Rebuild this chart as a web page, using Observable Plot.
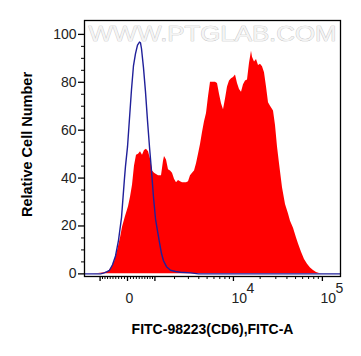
<!DOCTYPE html>
<html><head><meta charset="utf-8">
<script src="https://cdn.jsdelivr.net/npm/d3@7"></script>
<script src="https://cdn.jsdelivr.net/npm/@observablehq/plot@0.6"></script>
<style>body{margin:0;background:#fff}</style>
</head><body><div id="chart"></div>
<script>
// Histogram bins (display channel 0..256) and relative cell counts
const sampleChannel = [0,8,14,20,24,27,30,33,36,38,41,44,46,48,50,52,54,56,58,60,62,64,66,68,70,72,74,77,79,80,82,84,86,88,90,92,94,96,98,100,102,104,106,108,110,112,114,116,118,120,122,124,126,128,131,133,135,137,139,141,143,145,147,149,151,153,155,157,159,161,163,165,167,168,170,172,174,176,178,180,182,184,186,189,191,193,195,198,201,204,206,209,212,214,217,220,223,226,229,232,235,238,256];
const sampleCount   = [0,0,0.2,0.5,1,2.5,5,9.5,15,19.5,24,28,32,37,45,49.5,50,51,49.5,51.5,52,51,48,43,42,41.5,41,41,47,49,47.5,43.5,43,42,39.5,38,39,38.5,38,38,38,38.5,41,42,43,46,50,54,59,63.5,67,74,80,80,80,79.5,75,71,68.5,73,78,80.5,81.5,82,83,79.5,77,75.8,79,80.5,81,88,93,90.5,88.5,89.5,87,87.5,86.5,84,78,71.5,70,68,62,53,46,36,29,25,22,19,15,12.5,9,6,4,2.5,1.4,0.6,0.2,0,0];
const controlChannel = [0,16,19,22,25,28,31,34,37,40,41,43,45,47,49,51,53,55,56,57,59,61,63,65,67,69,71,73,75,77,79,82,86,91,96,106,114,256];
const controlCount   = [0,0,0.3,0.8,1.5,3.8,7.5,14,23.5,40,45,53,65,77,87,92,95.5,96.8,96.5,94,86,76,64,53,43,32,23,18,13,8.5,5.5,3,1.5,1,0.7,0.4,0,0];

const yMajorTicks = [0,20,40,60,80,100];
const yMinorTicks = [5,10,15,25,30,35,45,50,55,65,70,75,85,90,95];
const xMajorValues = [-1000,0,1000,10000,100000];
const xMinorValues = [-900,-800,-700,-600,-500,-400,-300,-200,-100,100,200,300,400,500,600,700,800,900,2000,3000,4000,5000,6000,7000,8000,9000,20000,30000,40000,50000,60000,70000,80000,90000];
const xZeroLabel = "0";
const xPowerValues = [10000,100000];
const xPowerExponents = ["4","5"];
const xTitle = "FITC-98223(CD6),FITC-A";
const yTitle = "Relative Cell Number";
const watermark = "WWW.PTGLAB.COM";

// biexponential-like display transform: intensity -> channel
const toChannel = v => 43 + 38.7 * Math.asinh(v / 1300);

const sample = sampleChannel.map((c,i) => ({channel:c, count:sampleCount[i]}));
const control = controlChannel.map((c,i) => ({channel:c, count:controlCount[i]}));
const font = "Liberation Sans, Arial, Helvetica, sans-serif";

const plot = Plot.plot({
  width: 361, height: 356,
  marginLeft: 84, marginRight: 21, marginTop: 20, marginBottom: 80,
  style: {fontFamily: font, background: "white", color: "black"},
  x: {domain: [0,256], label: null},
  y: {domain: [-1.1,105.8], label: null},
  marks: [
    Plot.areaY(sample, {x:"channel", y:"count", fill:"#ff0000"}),
    Plot.lineY(control, {x:"channel", y:"count", stroke:"#20209a", strokeWidth:1.4}),
    Plot.text([watermark], {frameAnchor:"top", lineAnchor:"middle", textAnchor:"middle", dy:13.5, fontSize:22, fill:"#f4f4f4", stroke:"#bdbdbd", strokeWidth:0.7}),
    Plot.frame({stroke:"black", strokeWidth:1.3}),
    Plot.axisY(yMajorTicks, {tickSize:6, tickPadding:2, fontSize:14, fill:"#222", strokeWidth:1.3, label:null}),
    Plot.axisY(yMinorTicks, {tickSize:3, tickFormat:() => "", label:null}),
    Plot.axisX(xMajorValues.map(toChannel), {tickSize:5, tickFormat:() => "", strokeWidth:1.3, label:null}),
    Plot.axisX(xMinorValues.map(toChannel), {tickSize:3, tickFormat:() => "", label:null}),
    Plot.text([0], {x: d => toChannel(d), text: () => xZeroLabel, frameAnchor:"bottom", lineAnchor:"middle", textAnchor:"middle", dy:22, dx:2, fontSize:14, fill:"#222"}),
    Plot.text(xPowerValues, {x: d => toChannel(d), text: () => "10", frameAnchor:"bottom", lineAnchor:"middle", dy:22, dx:-2, textAnchor:"start", fontSize:14, fill:"#222"}),
    Plot.text(xPowerValues, {x: d => toChannel(d), text: (d,i) => xPowerExponents[i], frameAnchor:"bottom", lineAnchor:"middle", dy:12, dx:13, textAnchor:"start", fontSize:14, fill:"#222"}),
    Plot.text([xTitle], {frameAnchor:"bottom", lineAnchor:"middle", textAnchor:"middle", dy:53, fontSize:14, fontWeight:"bold"}),
    Plot.text([yTitle], {frameAnchor:"left", lineAnchor:"middle", textAnchor:"middle", dx:-57, dy:-4, rotate:-90, fontSize:14.5, fontWeight:"bold"})
  ]
});
document.getElementById("chart").appendChild(plot);
d3.select(plot).selectAll("text").filter(function(){ return this.textContent === watermark; })
  .attr("textLength", 248).attr("lengthAdjust", "spacingAndGlyphs");
</script>
</body></html>
